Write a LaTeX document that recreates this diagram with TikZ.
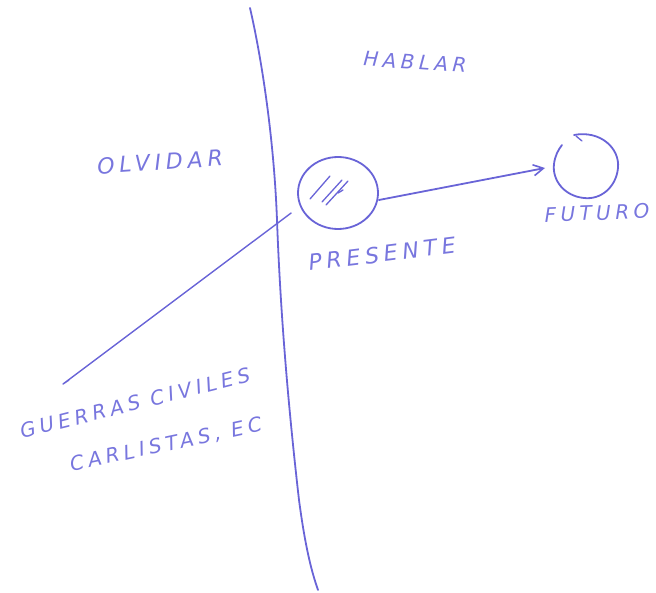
\documentclass[tikz,border=0pt]{standalone}
\usepackage{fontspec}
\setmainfont{DejaVu Sans}
\newfontfamily\handfont[LetterSpace=22]{DejaVu Sans}
\usetikzlibrary{arrows.meta,shapes.geometric}
\definecolor{pen}{RGB}{105,100,215}
\definecolor{ink}{RGB}{120,118,222}
\begin{document}
\begin{tikzpicture}[x=1pt,y=-1pt,
  stroke/.style={draw=pen,line width=1.8pt,line cap=round,line join=round},
  hatch/.style={draw=pen,line width=1.3pt,line cap=round},
  lbl/.style={text=ink,font=\handfont\fontsize{20}{22}\selectfont\itshape,inner sep=1pt}]
\useasboundingbox (0,0) rectangle (656,593);
% vertical divider
\draw[stroke] (250,8) .. controls (262,60) and (274,140) .. (277,220)
  .. controls (281,330) and (291,430) .. (299,500) .. controls (305,545) and (311,570) .. (318,590);
% presente circle
\node[draw=pen,line width=1.8pt,ellipse,minimum width=80pt,minimum height=72pt] (pres) at (338,193) {};
\draw[hatch] (310,199) -- (330,176);
\draw[hatch] (322,202) -- (342,180);
\draw[hatch] (326,205) -- (348,181);
\draw[hatch] (338,193) -- (343,190);
% futuro circle
\node[circle,minimum size=64pt] (fut) at (586,166) {};
\draw[stroke] (574,135) .. controls (600,130) and (620,148) .. (618,168)
  .. controls (616,188) and (600,200) .. (584,198)
  .. controls (564,196) and (552,180) .. (554,164) .. controls (555,156) and (558,150) .. (562,145);
\draw[stroke,line width=1.3pt] (576,136) -- (582,141);
% arrow
\draw[stroke,-{Straight Barb[length=10pt,width=11pt,line width=1.6pt]}] (pres.east) ++(0,7) coordinate (a0) -- (545,168) coordinate (a1);
% line to past
\coordinate (past) at (63,384);
\draw[stroke,line width=1.4pt] (pres.west) ++(-6,20) coordinate (p0) -- (past) -- (69,380);
% labels
\node[lbl,rotate=-4] (hablar) at (415,62) {HABLAR};
\node[lbl,rotate=4,font=\handfont\fontsize{22}{24}\selectfont\itshape] (olvidar) at (160,162) {OLVIDAR};
\node[lbl,rotate=7,font=\handfont\fontsize{22}{24}\selectfont\itshape] (presente) at (382,254) {PRESENTE};
\node[lbl,rotate=2] (futuro) at (597,213) {FUTURO};
\node[lbl,rotate=14] (guerras) at (135,403) {GUERRAS CIVILES};
\node[lbl,rotate=12] (carlistas) at (166,445) {CARLISTAS, EC};
\end{tikzpicture}
\end{document}
